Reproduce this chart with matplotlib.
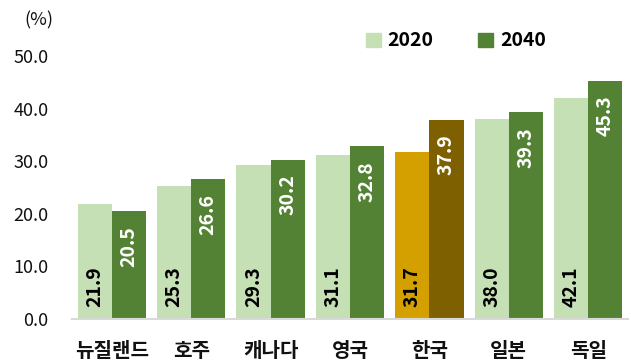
import matplotlib
matplotlib.use("Agg")
import matplotlib.pyplot as plt
import numpy as np

plt.rcParams['font.family'] = ['Noto Sans CJK KR', 'DejaVu Sans']

countries = ["뉴질랜드", "호주", "캐나다", "영국", "한국", "일본", "독일"]
share_2020 = [21.9, 25.3, 29.3, 31.1, 31.7, 38.0, 42.1]
share_2040 = [20.5, 26.6, 30.2, 32.8, 37.9, 39.3, 45.3]
yticks = [0, 10, 20, 30, 40, 50]

light_green = "#C5E0B4"
dark_green = "#548235"
gold = "#D4A000"
brown = "#7F6000"
highlight = "한국"

fig = plt.figure(figsize=(6.31, 3.64), dpi=100)
ax = fig.add_axes([72 / 631, 45 / 364, 556 / 631, 263 / 364])

x = np.arange(len(countries))
w = 0.43
c1 = [gold if c == highlight else light_green for c in countries]
c2 = [brown if c == highlight else dark_green for c in countries]
b1 = ax.bar(x - w / 2, share_2020, w, color=c1, label="2020")
b2 = ax.bar(x + w / 2, share_2040, w, color=c2, label="2040")

for xi, v in zip(x, share_2020):
    ax.annotate(f"{v:.1f}", (xi - w / 2, 0), xytext=(0, 8.5), textcoords="offset points",
                rotation=90, ha="center", va="bottom", fontsize=14, fontweight="bold",
                color="black")
for xi, v in zip(x, share_2040):
    ax.annotate(f"{v:.1f}", (xi + w / 2, v), xytext=(0, -10.5), textcoords="offset points",
                rotation=90, ha="center", va="top", fontsize=14, fontweight="bold",
                color="white")

ax.set_xlim(-0.5, len(countries) - 0.5)
ax.set_ylim(0, 50)
ax.set_yticks(yticks)
ax.set_yticklabels([f"{t:.1f}" for t in yticks], fontsize=13, color="#111111")
ax.set_xticks(x)
ax.set_xticklabels(countries, fontsize=14.5, fontweight="bold", color="#111111")
ax.tick_params(axis="both", length=0)
ax.tick_params(axis="x", pad=15)
ax.tick_params(axis="y", pad=17)
for s in ["top", "right", "left"]:
    ax.spines[s].set_visible(False)
ax.spines["bottom"].set_color("#D9D9D9")
ax.spines["bottom"].set_linewidth(1.5)

fig.text(24 / 631, 1 - 20 / 364, "(%)", fontsize=13, va="center", ha="left", color="#111111")

leg = fig.legend(handles=[b1[0], b2[0]], labels=["2020", "2040"],
                 loc="center", bbox_to_anchor=(456 / 631, 1 - 41 / 364), ncol=2,
                 frameon=False, handlelength=0.75, handleheight=0.75, handletextpad=0.35,
                 columnspacing=2.3, prop={"size": 14, "weight": "bold"})
leg.legend_handles[0].set_color(light_green)
leg.legend_handles[1].set_color(dark_green)

fig.savefig("out.png", dpi=100)
